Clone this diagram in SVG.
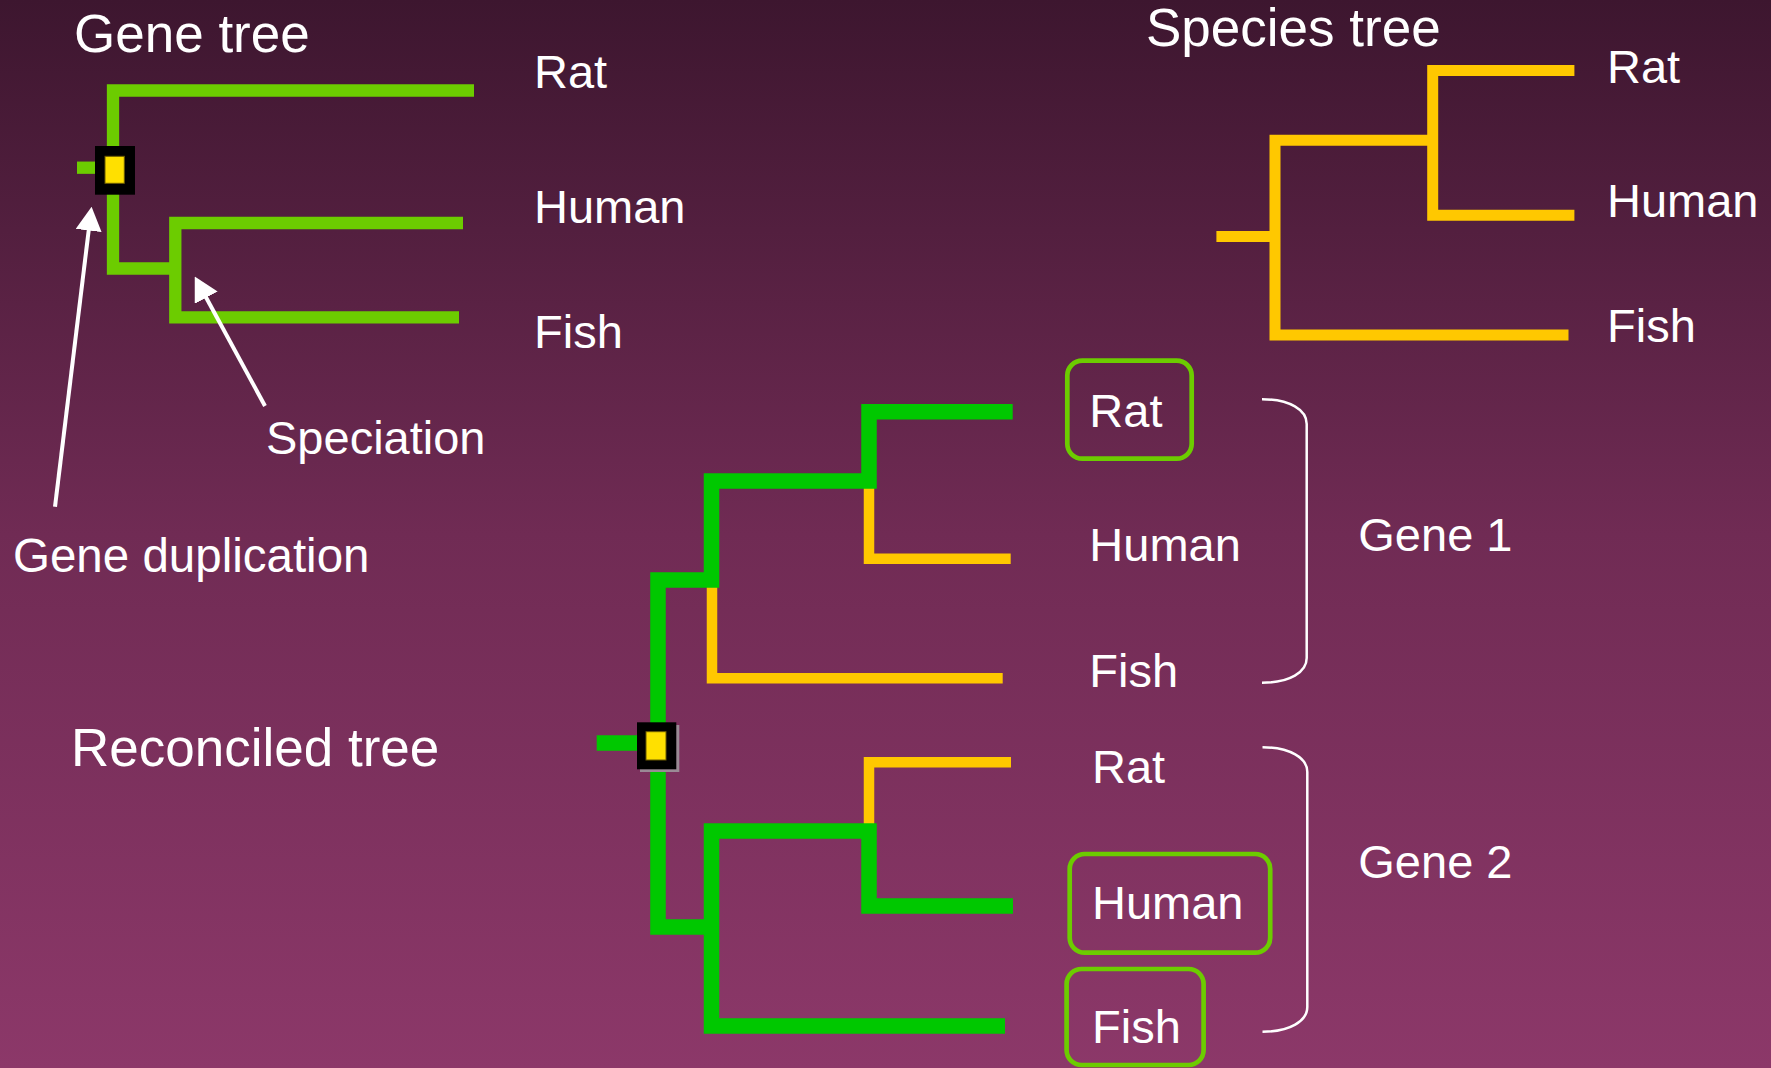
<svg xmlns="http://www.w3.org/2000/svg" width="1771" height="1068" viewBox="0 0 1771 1068">
<defs>
<linearGradient id="bg" x1="0" y1="0" x2="0" y2="1">
<stop offset="0" stop-color="#3d162f"/>
<stop offset="0.5" stop-color="#702b54"/>
<stop offset="1" stop-color="#8c3869"/>
</linearGradient>
<marker id="ah" viewBox="0 0 24 26" refX="1" refY="13" markerWidth="24" markerHeight="26" markerUnits="userSpaceOnUse" orient="auto">
<path d="M0,0 L24,13 L0,26 z" fill="#ffffff"/>
</marker>
<style>
text{font-family:"Liberation Sans",Arial,sans-serif;fill:#ffffff;}
.t{font-size:53px;}
.l{font-size:47px;}
.gg{fill:none;stroke:#6ccc00;stroke-width:12.3;stroke-linejoin:miter;}
.gr{fill:none;stroke:#00c800;stroke-width:15.5;stroke-linejoin:miter;}
.ye{fill:none;stroke:#ffc800;stroke-width:10.5;stroke-linejoin:miter;}
.sp{fill:none;stroke:#ffc800;stroke-width:11;stroke-linejoin:miter;}
.box{fill:none;stroke:#6ccc00;stroke-width:4.7;}
.br{fill:none;stroke:#ffffff;stroke-width:2.5;}
.ar{fill:none;stroke:#ffffff;stroke-width:4;}
.dup{fill:#000000;}
.dupin{fill:#ffe000;stroke:#6b5a00;stroke-width:1;}
</style>
</defs>
<rect x="0" y="0" width="1771" height="1068" fill="url(#bg)"/>

<g id="titles">
<text class="t" x="74" y="52">Gene tree</text>
<text class="t" x="1146" y="46">Species tree</text>
<text class="t" x="71" y="766">Reconciled tree</text>
</g>

<g id="connectors">
<!-- gene tree -->
<path class="gg" d="M77,167.7 H100"/>
<path class="gg" d="M474,90.5 H113 V268.5 H175.3"/>
<path class="gg" d="M463,223 H175.3 V317.3 H459"/>
<!-- annotation arrows -->
<path class="ar" d="M55,506.7 L88.8,229.5" marker-end="url(#ah)"/>
<path class="ar" d="M265,406 L205.7,296.8" marker-end="url(#ah)"/>
<!-- species tree -->
<path class="sp" d="M1216.4,236.5 H1275"/>
<path class="sp" d="M1574.4,70.5 H1432.7 V215.3 H1574.4"/>
<path class="sp" d="M1432.7,140.3 H1275 V335 H1568.5"/>
<!-- reconciled tree: lost/yellow branches -->
<path class="ye" d="M869,485 V558.7 H1010.7"/>
<path class="ye" d="M712,584 V678.3 H1002.7"/>
<path class="ye" d="M869,828 V762.3 H1011"/>
<!-- reconciled tree: green branches -->
<path class="gr" d="M596.7,743 H640"/>
<path class="gr" d="M1012.7,411.7 H869 V481 H711.5 V580 H658 V927 H711.5"/>
<path class="gr" d="M1013,906 H869 V831 H711.5 V1026 H1005"/>
<!-- brackets -->
<path class="br" d="M1262,399.3 C1290,399.3 1306.7,410 1306.7,424 V658 C1306.7,672 1290,682.7 1262,682.7"/>
<path class="br" d="M1262.5,747.3 C1290,747.3 1307.3,758 1307.3,772 V1007 C1307.3,1021 1290,1031.7 1262.5,1031.7"/>
</g>

<g id="gene-dup-node">
<rect class="dup" x="95" y="146" width="40" height="48.7"/>
<rect class="dupin" x="105" y="156.3" width="19.3" height="27"/>
</g>

<g id="reconciled-dup-node">
<rect x="640" y="725" width="39.3" height="47" fill="#9a8a95"/>
<rect class="dup" x="637" y="722.3" width="39.3" height="47"/>
<rect class="dupin" x="646" y="731.7" width="20" height="28.3"/>
</g>

<g id="gene-tree-labels">
<text class="l" x="534" y="88.3">Rat</text>
<text class="l" x="534" y="222.7">Human</text>
<text class="l" x="534" y="348.3">Fish</text>
</g>

<g id="species-tree-labels">
<text class="l" x="1607" y="82.7">Rat</text>
<text class="l" x="1607" y="216.7">Human</text>
<text class="l" x="1607" y="342.3">Fish</text>
</g>

<g id="annotations">
<text class="l" x="266" y="454.3">Speciation</text>
<text class="l" x="13" y="572.3" style="font-size:47.5px">Gene duplication</text>
</g>

<g id="gene1-rat">
<rect class="box" x="1067.3" y="360.6" width="124.4" height="98.1" rx="15"/>
<text class="l" x="1089.3" y="427.3">Rat</text>
</g>
<g id="gene1-human">
<text class="l" x="1089.3" y="560.7">Human</text>
</g>
<g id="gene1-fish">
<text class="l" x="1089.3" y="686.7">Fish</text>
</g>
<g id="gene2-rat">
<text class="l" x="1092" y="782.7">Rat</text>
</g>
<g id="gene2-human">
<rect class="box" x="1069.7" y="854" width="200.5" height="98.7" rx="15"/>
<text class="l" x="1092" y="919">Human</text>
</g>
<g id="gene2-fish">
<rect class="box" x="1066.6" y="969" width="137" height="96" rx="15"/>
<text class="l" x="1092" y="1043.3">Fish</text>
</g>

<g id="gene-labels">
<text class="l" x="1358.3" y="551">Gene 1</text>
<text class="l" x="1358.3" y="878">Gene 2</text>
</g>
</svg>
